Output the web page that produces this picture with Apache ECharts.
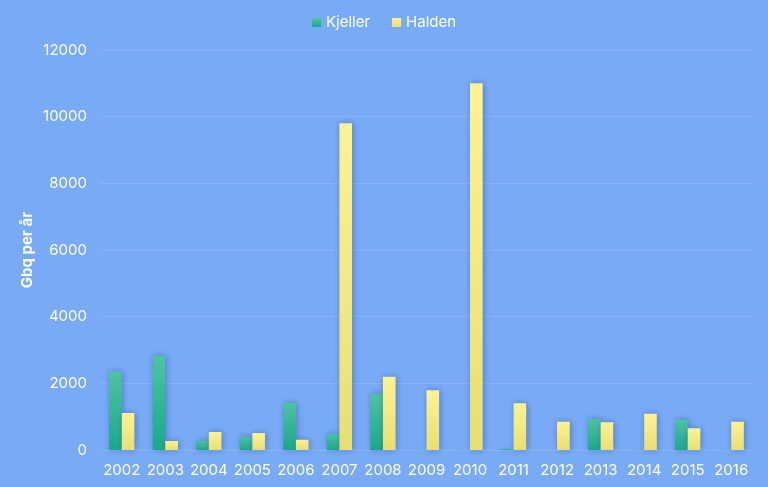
<!DOCTYPE html>
<html><head><meta charset="utf-8">
<script src="https://cdn.jsdelivr.net/npm/echarts@6/dist/echarts.min.js"></script>
<style>html,body{margin:0;padding:0;background:#78aaf5;}#c{width:768px;height:487px;}</style>
</head><body><div id="c"></div>
<script>
const years = ['2002','2003','2004','2005','2006','2007','2008','2009','2010','2011','2012','2013','2014','2015','2016'];
const kjeller = [2350, 2820, 280, 400, 1420, 490, 1690, 15, 10, 40, 0, 930, 10, 910, 10];
const halden = [1110, 270, 540, 510, 310, 9800, 2200, 1790, 11000, 1400, 850, 830, 1090, 650, 850];
const seriesNames = ['Kjeller', 'Halden'];

const chart = echarts.init(document.getElementById('c'));
const font = 'Inter, "Noto Sans", sans-serif';
function grad(a, b) {
  return new echarts.graphic.LinearGradient(0, 0, 0, 1, [{offset: 0, color: a}, {offset: 1, color: b}]);
}
chart.setOption({
  backgroundColor: '#78aaf5',
  textStyle: {fontFamily: font},
  legend: {
    top: 10, left: 'center', icon: 'rect', itemWidth: 9, itemHeight: 9, itemGap: 22,
    textStyle: {color: '#ffffff', fontSize: 15, fontFamily: font},
    data: seriesNames
  },
  grid: {left: 100, right: 15, top: 50, bottom: 37},
  xAxis: {
    type: 'category', data: years,
    axisLine: {show: false}, axisTick: {show: false},
    axisLabel: {color: '#ffffff', fontSize: 15, margin: 13, interval: 0, fontFamily: font}
  },
  yAxis: {
    type: 'value', min: 0, max: 12000, interval: 2000,
    name: 'Gbq per år', nameLocation: 'middle', nameGap: 65, nameMoveOverlap: false,
    nameTextStyle: {color: '#ffffff', fontSize: 15, fontWeight: 'bold', fontFamily: font},
    axisLine: {show: false}, axisTick: {show: false},
    axisLabel: {color: '#ffffff', fontSize: 15, margin: 13, fontFamily: font, formatter: v => String(v)},
    splitLine: {lineStyle: {color: 'rgba(255,255,255,0.12)', width: 1}}
  },
  series: [
    {
      name: seriesNames[0], type: 'bar', data: kjeller, barWidth: '29%', barGap: '0%',
      itemStyle: {color: grad('#4ec3a3', '#19a98b'), shadowColor: 'rgba(30,60,140,0.45)', shadowBlur: 6, shadowOffsetX: 1, shadowOffsetY: 0}
    },
    {
      name: seriesNames[1], type: 'bar', data: halden, barWidth: '29%', barGap: '0%',
      itemStyle: {color: grad('#fff292', '#e9df70'), shadowColor: 'rgba(30,60,140,0.45)', shadowBlur: 6, shadowOffsetX: 1, shadowOffsetY: 0}
    }
  ]
});
</script>
</body></html>
